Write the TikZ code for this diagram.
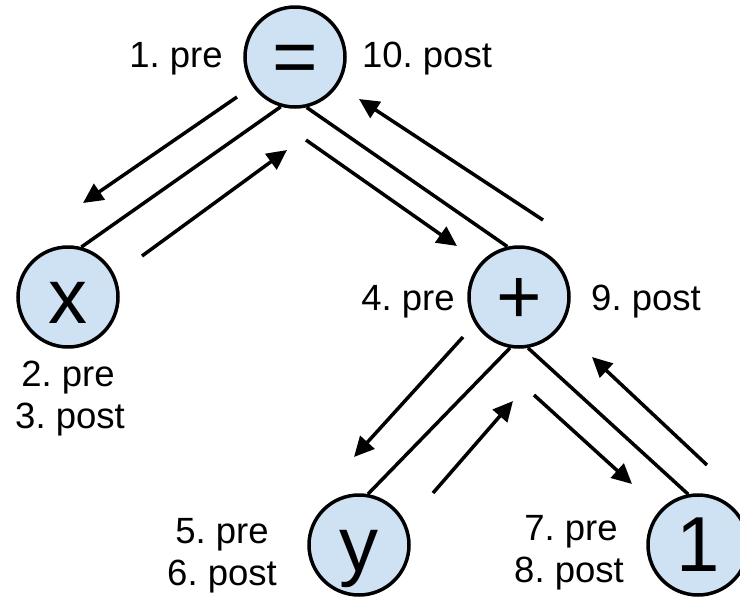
\documentclass[tikz,border=0pt]{standalone}
\usepackage{fontspec}
\setmainfont{Liberation Sans}
\usetikzlibrary{arrows.meta}
\definecolor{nodefill}{HTML}{CFE2F3}
\frenchspacing
\tikzset{
  vertex/.style={circle, draw=black, line width=3.5pt, fill=nodefill, minimum size=100pt, inner sep=0pt,
    text height=52pt, text depth=0pt, font=\fontsize{78}{80}\selectfont},
  treeedge/.style={line width=3.5pt},
  walk/.style={line width=3.5pt, -{Triangle[length=20pt,width=19pt]}},
  lbl/.style={anchor=base, inner sep=0pt, font=\fontsize{36.5}{40}\selectfont}
}
\begin{document}
\begin{tikzpicture}[x=1pt,y=-1pt]
\useasboundingbox (0,0) rectangle (740,598);
% nodes
\node[vertex] (eq) at (295,57) {=};
\node[vertex] (x) at (68,297) {x};
\node[vertex] (plus) at (519,297) {+};
\node[vertex] (y) at (359,545) {y};
\node[vertex] (one) at (698,545) {1};
% tree edges
\draw[treeedge] (eq.-106) -- (x.75);
\draw[treeedge] (eq.-77) -- (plus.103);
\draw[treeedge] (plus.-100) -- (y.80);
\draw[treeedge] (plus.-80) -- (one.101);
% walk arrow end points
\coordinate (a1s) at (237,97);  \coordinate (a1e) at (83,203);
\coordinate (a2s) at (142,256); \coordinate (a2e) at (287,150);
\coordinate (a3s) at (306,140); \coordinate (a3e) at (457,246);
\coordinate (a4s) at (543,220); \coordinate (a4e) at (359,99);
\coordinate (a5s) at (463,337); \coordinate (a5e) at (354,457);
\coordinate (a6s) at (433,493); \coordinate (a6e) at (513,401);
\coordinate (a7s) at (534,395); \coordinate (a7e) at (632,484);
\coordinate (a8s) at (707,465); \coordinate (a8e) at (592,357);
\draw[walk] (a1s) -- (a1e);
\draw[walk] (a2s) -- (a2e);
\draw[walk] (a3s) -- (a3e);
\draw[walk] (a4s) -- (a4e);
\draw[walk] (a5s) -- (a5e);
\draw[walk] (a6s) -- (a6e);
\draw[walk] (a7s) -- (a7e);
\draw[walk] (a8s) -- (a8e);
% labels
\node[lbl] (l1) at (176,67) {1. pre};
\node[lbl] (l10) at (427,67) {10. post};
\node[lbl] (l2) at (68,386) {2. pre};
\node[lbl] (l3) at (70,428) {3. post};
\node[lbl] (l4) at (408,310) {4. pre};
\node[lbl] (l9) at (646,310) {9. post};
\node[lbl] (l5) at (222,543) {5. pre};
\node[lbl] (l6) at (222,585) {6. post};
\node[lbl] (l7) at (571,540) {7. pre};
\node[lbl] (l8) at (569,582) {8. post};
\end{tikzpicture}
\end{document}
